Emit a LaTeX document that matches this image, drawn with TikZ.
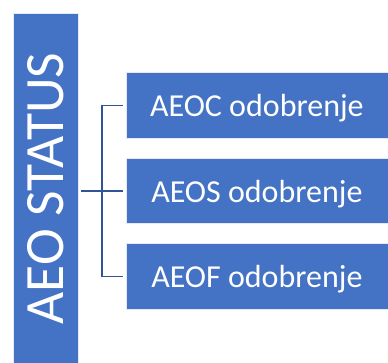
\documentclass[tikz,border=0pt]{standalone}
\usepackage{fontspec}
\setmainfont{Carlito}
\usetikzlibrary{positioning}
\definecolor{aeoblue}{HTML}{4472C4}
\definecolor{aeoline}{HTML}{2F5597}
\tikzset{
  stbox/.style={rectangle, draw=white!85!aeoblue, line width=0.8pt,
    fill=aeoblue, text=white, align=center},
  link/.style={draw=aeoline, line width=1.6pt}
}
\begin{document}
\begin{tikzpicture}[x=1pt, y=-1pt, inner sep=0, outer sep=0]
  \useasboundingbox (0,0) rectangle (388,363);

  \node[stbox,
    rotate=90,
    minimum width = 351pt,
    minimum height = 65pt,
    font=\fontsize{55.5}{55.5}\selectfont] (status) at (45.4,188.5) {AEO STATUS};

  \node[stbox,
    minimum width = 262pt,
    minimum height = 65.5pt,
    text depth = 0pt,
    font=\fontsize{32}{32}\selectfont] (aeoc) at (256.9,105.5) {AEOC odobrenje};
  \node[stbox,
    below=20pt of aeoc,
    minimum width = 262pt,
    minimum height = 65.5pt,
    text depth = 0pt,
    font=\fontsize{32}{32}\selectfont] (aeos) {AEOS odobrenje};
  \node[stbox,
    below=20pt of aeos,
    minimum width = 262pt,
    minimum height = 65.5pt,
    text depth = 0pt,
    font=\fontsize{32}{32}\selectfont] (aeof) {AEOF odobrenje};

  % fork
  \coordinate (fork) at ([xshift=-24pt]aeoc.west);
  \draw[link] ([xshift=3pt]status.south |- aeos.west) -- ([xshift=-3pt]aeos.west);
  \draw[link] ([xshift=-3pt]aeoc.west) -- (fork) |- ([xshift=-3pt]aeof.west);
\end{tikzpicture}
\end{document}
